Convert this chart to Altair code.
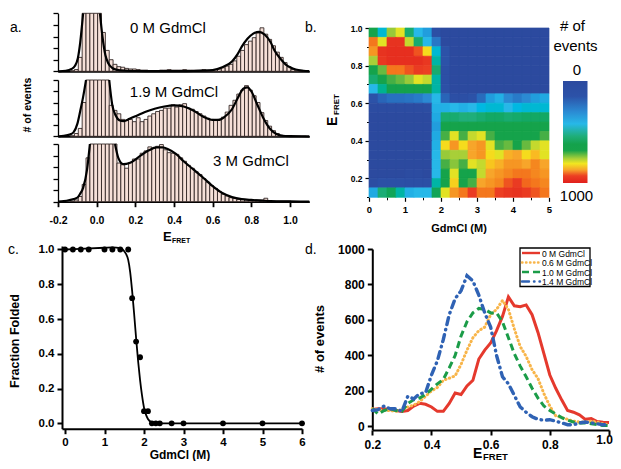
import altair as alt
import pandas as pd

FONT = "Liberation Sans"
W, H = 605, 453
M = 8  # page margin


def cx(px):
    return px - M


def cy(py):
    return py - M


# ---------------- panel a: smFRET histograms ----------------
a_bin_width = 0.02
a_bin_start = [round(-0.135 + a_bin_width * i, 3) for i in range(61)]
a_counts_0M = [1, 3, 24, 130, 130, 130, 130, 130, 67, 36,
               20, 12, 8, 7, 5, 4, 4, 3, 2, 2,
               1, 1, 1, 2, 2, 3, 2, 2, 2, 3,
               2, 2, 2, 2, 3, 2, 2, 3, 4, 6,
               9, 12, 18, 26, 36, 46, 52, 58, 66, 75,
               64, 55, 44, 33, 24, 15, 8, 3, 1, 0, 0]
a_counts_19M = [1, 5, 14, 60, 130, 130, 130, 130, 130, 130,
                55, 46, 40, 30, 28, 30, 26, 33, 26, 30,
                36, 40, 44, 46, 50, 50, 56, 52, 56, 58,
                50, 48, 44, 40, 36, 32, 30, 28, 30, 34,
                43, 55, 64, 75, 82, 90, 82, 72, 60, 42,
                28, 18, 10, 5, 2, 1, 1, 0, 0, 0, 0]
a_counts_3M = [1, 3, 9, 30, 76, 130, 130, 130, 130, 130,
               130, 130, 67, 64, 58, 68, 74, 74, 84, 88,
               95, 93, 96, 99, 90, 85, 84, 82, 76, 70,
               63, 58, 52, 47, 40, 34, 28, 23, 18, 13,
               10, 7, 6, 4, 4, 3, 3, 2, 3, 3,
               6, 2, 1, 1, 1, 1, 1, 0, 0, 0, 0]
# fitted curves (None = the curve leaves the top of the panel)
a_fit_0M_x = [-0.2, -0.16, -0.13, -0.113, -0.097, -0.085, -0.07, None,
              0.017, 0.03, 0.045, 0.06, 0.08, 0.1, 0.15, 0.2, 0.3, 0.4, 0.5, 0.55,
              0.6, 0.65, 0.7, 0.73, 0.75, 0.78, 0.81, 0.84, 0.87, 0.9, 0.92, 0.95,
              0.98, 1.0, 1.03, 1.07, 1.1]
a_fit_0M_y = [0, 1, 4, 9, 23, 50, 100, None,
              100, 60, 28, 14, 6, 3, 1, 0.5, 0.3, 0.3, 0.5, 1,
              2, 7, 17, 30, 42, 56, 65, 68, 63, 50, 36, 22,
              11, 7, 3, 1, 0.3]
a_fit_19M_x = [-0.2, -0.17, -0.14, -0.12, -0.1, -0.085, -0.07, -0.055, None,
               0.065, 0.08, 0.1, 0.12, 0.14, 0.17, 0.21, 0.25, 0.3, 0.35, 0.4,
               0.45, 0.5, 0.55, 0.6, 0.63, 0.66, 0.7, 0.73, 0.76, 0.78, 0.8,
               0.83, 0.86, 0.9, 0.93, 0.96, 1.0, 1.1]
a_fit_19M_y = [0, 1, 3, 7, 22, 45, 70, 100, None,
               100, 57, 36, 28, 27, 31, 37, 43, 49, 53, 55,
               53, 46, 35, 29, 29, 34, 48, 68, 85, 87, 80,
               57, 34, 12, 4, 1, 0.3, 0]
a_fit_3M_x = [-0.2, -0.17, -0.14, -0.1, -0.085, -0.07, -0.05, -0.035, None,
              0.095, 0.112, 0.138, 0.17, 0.22, 0.27, 0.31, 0.34, 0.37, 0.41, 0.45,
              0.5, 0.55, 0.6, 0.65, 0.7, 0.75, 0.8, 0.85, 0.9, 1.0, 1.1]
a_fit_3M_y = [0, 1, 3, 7, 14, 24, 55, 100, None,
              100, 76, 65, 67, 78, 89, 94, 94, 91, 83, 70,
              56, 42, 27, 15, 8, 4.5, 3, 2, 1, 0.5, 0.2]
a_labels = ["0 M GdmCl", "1.9 M GdmCl", "3 M GdmCl"]
a_xticks = [-0.2, 0.0, 0.2, 0.4, 0.6, 0.8, 1.0]
a_yticks = [0, 20, 40, 60, 80, 100]

# ---------------- panel b: 2D histogram ----------------
b_gdm_edges = [0, 0.25, 0.5, 0.75, 1.0, 1.25, 1.5, 1.75, 2.0, 2.25, 2.5,
               2.75, 3.0, 3.25, 3.5, 3.75, 4.0, 4.25, 4.5, 4.75, 5.0]
b_efret_edges = [1.0, 0.95, 0.9, 0.85, 0.8, 0.75, 0.7, 0.65, 0.6, 0.55,
                 0.5, 0.45, 0.4, 0.35, 0.3, 0.25, 0.2, 0.15, 0.1]
b_counts = [
    [650, 450, 750, 800, 560, 420, 350, 100, 0, 0, 0, 0, 0, 0, 0, 0, 0, 0, 0, 0],
    [900, 800, 960, 960, 780, 560, 420, 250, 0, 0, 0, 0, 0, 0, 0, 0, 0, 0, 0, 0],
    [880, 960, 970, 970, 970, 920, 820, 450, 150, 0, 0, 0, 0, 0, 0, 0, 0, 0, 0, 0],
    [760, 950, 970, 970, 970, 970, 950, 500, 150, 0, 0, 0, 0, 0, 0, 0, 0, 0, 0, 0],
    [650, 720, 900, 900, 920, 940, 930, 560, 100, 0, 0, 0, 0, 0, 0, 0, 0, 0, 0, 0],
    [560, 650, 700, 720, 750, 800, 780, 500, 100, 0, 0, 0, 0, 0, 0, 0, 0, 0, 0, 0],
    [420, 520, 620, 620, 620, 640, 620, 500, 120, 0, 0, 0, 0, 0, 0, 0, 0, 0, 0, 0],
    [150, 200, 230, 230, 240, 260, 300, 420, 200, 100, 100, 150, 220, 350, 400, 300, 260, 300, 350, 380],
    [30, 30, 30, 30, 30, 30, 50, 400, 400, 420, 400, 420, 430, 450, 450, 420, 430, 450, 450, 450],
    [0, 0, 0, 0, 0, 0, 0, 380, 560, 560, 540, 540, 560, 580, 580, 560, 570, 580, 580, 580],
    [0, 0, 0, 0, 0, 0, 0, 350, 650, 660, 650, 650, 650, 650, 650, 650, 650, 650, 650, 660],
    [0, 0, 0, 0, 0, 0, 0, 380, 700, 800, 700, 780, 800, 700, 650, 650, 650, 650, 660, 700],
    [0, 0, 0, 0, 0, 0, 0, 400, 820, 880, 820, 870, 880, 800, 700, 720, 680, 720, 780, 800],
    [0, 0, 0, 0, 0, 0, 0, 420, 750, 760, 760, 870, 880, 820, 800, 860, 870, 820, 850, 800],
    [0, 0, 0, 0, 0, 0, 0, 420, 700, 740, 700, 800, 780, 840, 860, 880, 880, 870, 890, 870],
    [0, 0, 0, 0, 30, 30, 0, 420, 650, 800, 650, 660, 780, 870, 880, 890, 900, 900, 890, 880],
    [50, 120, 120, 120, 100, 100, 100, 500, 650, 830, 650, 700, 870, 880, 890, 920, 940, 910, 900, 890],
    [380, 550, 600, 500, 400, 420, 420, 600, 800, 880, 900, 940, 900, 900, 930, 950, 960, 940, 920, 900],
]
b_color_domain = [0, 150, 300, 420, 540, 620, 680, 760, 810, 870, 930, 1000]
b_color_range = ["#2c4a9f", "#2c52a8", "#2b8ad3", "#27b8e8", "#1fae7a", "#14a24c",
                 "#16a34a", "#a8cf38", "#f2e620", "#f7a52a", "#ec3f23", "#e11f1d"]
b_color_max = 1000
b_xticks = [0, 1, 2, 3, 4, 5]
b_xminor = [0.5, 1.5, 2.5, 3.5, 4.5]
b_yticks = [0.2, 0.4, 0.6, 0.8, 1.0]
b_yminor = [0.1, 0.3, 0.5, 0.7, 0.9]

# ---------------- panel c: denaturation curve ----------------
c_gdmcl = [0, 0.2, 0.4, 0.6, 1.0, 1.2, 1.4, 1.6, 1.7, 1.8, 1.9, 2.0, 2.1,
           2.2, 2.3, 2.4, 2.7, 3.0, 4.0, 5.0, 6.0]
c_fraction = [1.0, 1.0, 1.0, 1.0, 1.0, 1.0, 1.0, 1.0, 0.72, 0.47, 0.38, 0.07, 0.07,
              0, 0, 0, 0, 0, 0, 0, 0]
c_fit_x = [0, 0.5, 1.0, 1.2, 1.4, 1.5, 1.6, 1.65, 1.7, 1.75, 1.8, 1.85, 1.9,
           1.95, 2.0, 2.05, 2.1, 2.2, 2.3, 2.5, 3.0, 6.0]
c_fit_y = [1.0, 1.005, 1.01, 1.012, 1.008, 0.99, 0.94, 0.87, 0.76, 0.63, 0.49, 0.36,
           0.25, 0.16, 0.09, 0.05, 0.025, 0.005, 0, 0, 0, 0]

# ---------------- panel d: low-denaturant histograms ----------------
d_efret = [round(0.2 + 0.02 * i, 2) for i in range(41)]
d_series = ["0 M GdmCl", "0.6 M GdmCl", "1.0 M GdmCl", "1.4 M GdmCl"]
d_0M = [95, 100, 100, 95, 90, 85, 90, 115, 130, 125, 110, 85, 85, 130, 188, 180, 228, 260,
        380, 430, 470, 540, 620, 730, 680, 675, 685, 630, 530, 410, 290, 215, 150, 90, 80,
        65, 40, 45, 28, 24, 22]
d_06M = [100, 95, 90, 90, 85, 95, 110, 120, 140, 170, 200, 220, 260, 272, 285, 350, 430, 500,
         540, 560, 630, 660, 710, 660, 550, 450, 395, 320, 270, 185, 115, 60, 50, 40, 30,
         25, 25, 30, 25, 15, 10]
d_10M = [100, 70, 90, 100, 90, 85, 130, 150, 160, 180, 210, 240, 265, 330, 400, 510, 590, 640,
         665, 660, 640, 640, 590, 500, 410, 340, 280, 215, 160, 115, 90, 70, 50, 35, 25,
         20, 20, 15, 10, 5, 5]
d_14M = [90, 95, 115, 100, 100, 85, 170, 155, 185, 190, 290, 370, 490, 630, 720, 765, 850, 820,
         740, 640, 560, 400, 280, 240, 175, 110, 80, 55, 40, 35, 38, 30, 20, 10, 10,
         20, 25, 20, 15, 10, 10]
d_colors = ["#e5392d", "#f8b54a", "#1b9c48", "#2f62b4"]
d_yticks = [0, 200, 400, 600, 800, 1000]
d_xticks = [0.2, 0.4, 0.6, 0.8, 1.0]


def ax(orient, offset, values=None, labels=True, ticks=True, fmt=None, size=11,
       tick=5, width=1.5, domain=True, pad=3, expr=None, loff=None):
    kw = dict(orient=orient, offset=offset, title=None, grid=False, labels=labels,
              ticks=ticks, domain=domain, tickSize=tick, domainWidth=width,
              tickWidth=width, labelFontSize=size, labelPadding=pad,
              labelFlush=False, labelOverlap=False)
    if values is not None:
        kw["values"] = values
    if fmt:
        kw["format"] = fmt
    if expr:
        kw["labelExpr"] = expr
    if loff is not None:
        kw["labelOffset"] = loff
    return alt.Axis(**kw)


def txt(s, px, py, size, weight="normal", align="left", baseline="alphabetic", angle=0):
    return alt.Chart(pd.DataFrame({"t": [s]})).mark_text(
        font=FONT, fontSize=size, fontWeight=weight, align=align, baseline=baseline,
        angle=angle, color="black"
    ).encode(text="t:N", x=alt.value(cx(px)), y=alt.value(cy(py)))


def segments(xs, ys):
    rows, seg = [], 0
    for x, y in zip(xs, ys):
        if x is None:
            seg += 1
            continue
        rows.append({"x": x, "y": y, "seg": seg})
    return pd.DataFrame(rows)


layers = []

# ---------- panel a ----------
a_sets = [
    (a_counts_0M, a_fit_0M_x, a_fit_0M_y, 71.3, 13.3),
    (a_counts_19M, a_fit_19M_x, a_fit_19M_y, 136.3, 80.0),
    (a_counts_3M, a_fit_3M_x, a_fit_3M_y, 201.7, 144.0),
]
minus_expr = "datum.value < 0 ? '-' + format(-datum.value, '.1f') : format(datum.value, '.1f')"
for k, (counts, fx, fy, ybot, ytop) in enumerate(a_sets):
    xs = alt.Scale(domain=[-0.2, 1.1], range=[cx(58), cx(309.3)], nice=False, zero=False)
    ys = alt.Scale(domain=[0, 100], range=[cy(ybot), cy(ytop)], nice=False, zero=False,
                   clamp=True)
    if k == 2:
        xaxis = ax("bottom", cy(ybot) - H, values=a_xticks, size=10.5, tick=5, width=1.8,
                   pad=9, expr=minus_expr)
    else:
        xaxis = ax("bottom", cy(ybot) - H, labels=False, ticks=False, width=1.8)
    yaxis = ax("left", -cx(58), values=a_yticks, labels=False, tick=5, width=1.3)
    df = pd.DataFrame({"x0": a_bin_start,
                       "x1": [s + a_bin_width for s in a_bin_start],
                       "h": counts, "b": [0] * len(counts)})
    bars = alt.Chart(df).mark_rect(fill="#f6e0d8", stroke="#2a1f1d", strokeWidth=0.85).encode(
        x=alt.X("x0:Q", scale=xs, axis=xaxis), x2="x1",
        y=alt.Y("h:Q", scale=ys, axis=yaxis), y2="b")
    fit = alt.Chart(segments(fx, fy)).mark_line(
        color="black", strokeWidth=2.2, interpolate="monotone"
    ).encode(x=alt.X("x:Q", scale=xs, axis=None), y=alt.Y("y:Q", scale=ys, axis=None),
             detail="seg:N")
    layers += [bars, fit]

# ---------- panel b ----------
heat_rows = []
for r, row in enumerate(b_counts):
    for c, v in enumerate(row):
        heat_rows.append({"g0": b_gdm_edges[c], "g1": b_gdm_edges[c + 1],
                          "e0": b_efret_edges[r + 1], "e1": b_efret_edges[r],
                          "v": v, "vs": v})
heat_df = pd.DataFrame(heat_rows)


def b_scales():
    return (alt.Scale(domain=[0, 5], range=[cx(369), cx(549)], nice=False, zero=False),
            alt.Scale(domain=[0.1, 1.0], range=[cy(197.3), cy(28)], nice=False, zero=False))


bxs, bys = b_scales()
heat = alt.Chart(heat_df).mark_rect(strokeWidth=0.7).encode(
    x=alt.X("g0:Q", scale=bxs,
            axis=ax("bottom", cy(197.3) - H, values=b_xticks, fmt="d",
                    size=9.5, tick=4, width=1.2, domain=False, pad=3)),
    x2="g1",
    y=alt.Y("e0:Q", scale=bys,
            axis=ax("left", -cx(369), values=b_yticks, fmt=".1f",
                    size=8.5, tick=4, width=1.2, domain=False, pad=3)),
    y2="e1",
    color=alt.Color("v:Q", scale=alt.Scale(domain=b_color_domain, range=b_color_range),
                    legend=None),
    stroke=alt.Stroke("vs:Q", scale=alt.Scale(domain=b_color_domain, range=b_color_range),
                      legend=None),
)
layers.append(heat)
# minor ticks of panel b (invisible mark that only carries the minor-tick axes)
bxs2, bys2 = b_scales()
layers.append(alt.Chart(pd.DataFrame({"g": [0], "e": [0.1]})).mark_point(opacity=0).encode(
    x=alt.X("g:Q", scale=bxs2,
            axis=ax("bottom", cy(197.3) - H, values=b_xminor, labels=False, tick=2.5,
                    width=1, domain=False)),
    y=alt.Y("e:Q", scale=bys2,
            axis=ax("left", -cx(369), values=b_yminor, labels=False, tick=2.5,
                    width=1, domain=False)),
))

# colour bar (0 at top, 1000 at bottom) built from the same colour stops
bar_gradient = alt.LinearGradient(
    gradient="linear", x1=0, x2=0, y1=0, y2=1,
    stops=[alt.GradientStop(color=col, offset=d / b_color_max)
           for d, col in zip(b_color_domain, b_color_range)])
layers.append(alt.Chart(pd.DataFrame({"a": [0]})).mark_rect(fill=bar_gradient).encode(
    x=alt.value(cx(563)), x2=alt.value(cx(587.5)), y=alt.value(cy(81)),
    y2=alt.value(cy(183))))

# ---------- panel c ----------
cxs = alt.Scale(domain=[-0.076, 6.0], range=[cx(62), cx(302)], nice=False, zero=False)
cys = alt.Scale(domain=[-0.031, 1.02], range=[cy(428.7), cy(246)], nice=False, zero=False)
c_fit = alt.Chart(pd.DataFrame({"x": c_fit_x, "y": c_fit_y})).mark_line(
    color="black", strokeWidth=1.8, interpolate="monotone"
).encode(
    x=alt.X("x:Q", scale=cxs,
            axis=ax("bottom", cy(428.7) - H, values=[0, 1, 2, 3, 4, 5, 6], fmt="d",
                    size=11.5, tick=5, width=2, pad=3)),
    y=alt.Y("y:Q", scale=cys,
            axis=ax("left", -cx(62), values=[0, 0.2, 0.4, 0.6, 0.8, 1.0], fmt=".1f",
                    size=11.5, tick=5, width=2, pad=3)),
)
c_pts = alt.Chart(pd.DataFrame({"x": c_gdmcl, "y": c_fraction})).mark_point(
    filled=True, color="black", size=34, opacity=1
).encode(x=alt.X("x:Q", scale=cxs, axis=None), y=alt.Y("y:Q", scale=cys, axis=None))
layers += [c_fit, c_pts]

# ---------- panel d ----------
dxs = alt.Scale(domain=[0.2, 1.0], range=[cx(372.3), cx(609)], nice=False, zero=False)
dys = alt.Scale(domain=[-20, 1000], range=[cy(430), cy(249)], nice=False, zero=False)
d_values = [d_0M, d_06M, d_10M, d_14M]
d_styles = [
    dict(strokeWidth=3, strokeCap="butt"),
    dict(strokeWidth=3, strokeDash=[0.5, 3.5], strokeCap="round"),
    dict(strokeWidth=3, strokeDash=[7, 4], strokeCap="butt"),
    dict(strokeWidth=3.4, strokeDash=[7, 5, 0.5, 5], strokeCap="round"),
]
for i, (vals, col, sty) in enumerate(zip(d_values, d_colors, d_styles)):
    if i == 0:
        xa = ax("bottom", cy(430) - H, values=d_xticks, size=12, tick=5, width=2, pad=4,
                expr="datum.value > 0.99 ? '' : format(datum.value, '.1f')")
        ya = ax("left", -cx(372.3), values=d_yticks, fmt="d", size=12, tick=5, width=2,
                pad=3)
    elif i == 1:
        # last tick label nudged left so that it stays inside the page
        xa = ax("bottom", cy(430) - H, values=[1.0], fmt=".1f", size=12, tick=5,
                width=2, pad=4, ticks=False, domain=False, loff=-5)
        ya = None
    else:
        xa, ya = None, None
    line = alt.Chart(pd.DataFrame({"x": d_efret, "y": vals})).mark_line(
        color=col, **sty
    ).encode(x=alt.X("x:Q", scale=dxs, axis=xa), y=alt.Y("y:Q", scale=dys, axis=ya))
    layers.append(line)

# legend box of panel d
layers.append(alt.Chart(pd.DataFrame({"a": [0]})).mark_rect(
    fill="white", stroke="black", strokeWidth=1.3
).encode(x=alt.value(cx(520)), x2=alt.value(cx(590)), y=alt.value(cy(248)),
         y2=alt.value(cy(286.5))))
for i, (name, col, sty) in enumerate(zip(d_series, d_colors, d_styles)):
    yy = 253 + 9.5 * i
    s2 = dict(sty)
    s2["strokeWidth"] = 2.4
    layers.append(alt.Chart(pd.DataFrame({"a": [0]})).mark_rule(color=col, **s2).encode(
        x=alt.value(cx(522)), x2=alt.value(cx(540)), y=alt.value(cy(yy))))
    layers.append(txt(name, 542, yy + 0.5, 8.5, baseline="middle"))

# ---------- text ----------
layers += [
    txt("a.", 10, 32, 14), txt("b.", 305, 32, 14),
    txt("c.", 8, 254, 14), txt("d.", 305, 254, 14),
    txt(a_labels[0], 168, 33, 15, align="center"),
    txt(a_labels[1], 174, 97, 15, align="center"),
    txt(a_labels[2], 251, 166, 15, align="center"),
    txt("# of events", 28, 105, 10.5, weight="bold", align="center", baseline="middle",
        angle=270),
    txt("E", 163, 241, 13, weight="bold"), txt("FRET", 172, 243, 7, weight="bold"),
    # panel b titles
    txt("E", 337, 126, 14, weight="bold", angle=270),
    txt("FRET", 338.5, 115, 8, weight="bold", angle=270),
    txt("GdmCl (M)", 459, 232, 11, weight="bold", align="center"),
    txt("# of", 572.5, 31, 15, align="center"),
    txt("events", 575.5, 51, 15, align="center"),
    txt("0", 577, 75, 15, align="center"),
    txt("1000", 576.5, 201, 15, align="center"),
    # panel c titles
    txt("Fraction Folded", 15, 341, 12.5, weight="bold", align="center",
        baseline="middle", angle=270),
    txt("GdmCl (M)", 180, 459, 12, weight="bold", align="center"),
    # panel d titles
    txt("# of events", 320, 339, 13, weight="bold", align="center", baseline="middle",
        angle=270),
    txt("E", 473, 458, 14, weight="bold"), txt("FRET", 483, 459.5, 9.5, weight="bold"),
]

chart = alt.layer(*layers).resolve_scale(
    x="independent", y="independent", color="independent", stroke="independent"
).properties(
    width=W, height=H, autosize=alt.AutoSizeParams(type="none"), padding=0
).configure_view(stroke=None).configure_axis(
    labelFont=FONT, labelFontWeight="bold", labelColor="black",
    domainColor="black", tickColor="black", grid=False
)

chart.save("out.html", embed_options={"renderer": "svg", "actions": False})
